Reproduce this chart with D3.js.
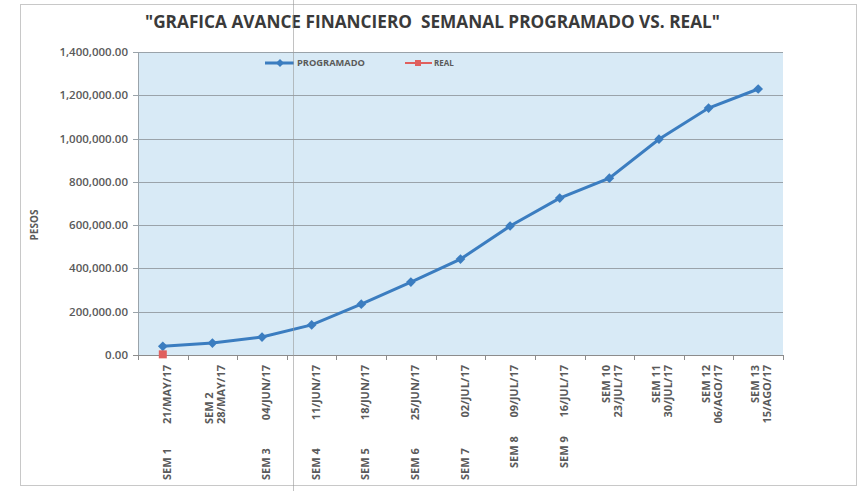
<!DOCTYPE html>
<html>
<head>
<meta charset="utf-8">
<script src="https://cdn.jsdelivr.net/npm/d3@7"></script>
<style>
  body { margin: 0; background: #fff; }
  svg { display: block; }
</style>
</head>
<body>
<svg width="867" height="491"></svg>
<script>
// datos
const semanas = ["SEM 1", "SEM 2", "SEM 3", "SEM 4", "SEM 5", "SEM 6", "SEM 7",
   "SEM 8", "SEM 9", "SEM 10", "SEM 11", "SEM 12", "SEM 13"];
const fechas = ["21/MAY/17", "28/MAY/17", "04/JUN/17", "11/JUN/17", "18/JUN/17",
   "25/JUN/17", "02/JUL/17", "09/JUL/17", "16/JUL/17", "23/JUL/17", "30/JUL/17",
   "06/AGO/17", "15/AGO/17"];
const programado = [40000, 55000, 83000, 139000, 235000, 337000, 443000,
   596000, 725000, 817000, 997000, 1141000, 1229000];
const real = [3000];
const yTicks = [0, 200000, 400000, 600000, 800000, 1000000, 1200000, 1400000];
const envueltas = ["SEM 2", "SEM 10", "SEM 11", "SEM 12", "SEM 13"];

const svg = d3.select("svg");
const font = "'Open Sans', sans-serif";
const pLeft = 138, pRight = 783, pTop = 52, pBottom = 355;

// marco del grafico
svg.append("rect")
   .attr("x", 20.5).attr("y", 4.5)
   .attr("width", 836).attr("height", 481)
   .attr("fill", "#fff")
   .attr("stroke", "#c8c8c8");

const x = d3.scaleBand().domain(semanas).range([pLeft, pRight]);
const y = d3.scaleLinear().domain([0, 1400000]).range([pBottom, pTop]);

svg.append("rect")
   .attr("x", pLeft).attr("y", pTop)
   .attr("width", pRight - pLeft).attr("height", pBottom - pTop)
   .attr("fill", "#d8eaf6");

// rejilla
svg.append("g")
   .selectAll("line")
   .data(yTicks)
   .enter()
   .append("line")
   .attr("x1", pLeft - 5).attr("x2", pRight)
   .attr("y1", d => Math.round(y(d)) + 0.5)
   .attr("y2", d => Math.round(y(d)) + 0.5)
   .style("stroke", d => d === 0 ? "#8c8c8c" : "#9aa3aa")
   .style("stroke-width", 1);

svg.append("line")
   .attr("x1", pLeft + 0.5).attr("x2", pLeft + 0.5)
   .attr("y1", pTop).attr("y2", pBottom)
   .style("stroke", "#9aa3aa");

// eje y
svg.append("g")
   .selectAll("text")
   .data(yTicks)
   .enter()
   .append("text")
   .attr("x", pLeft - 10)
   .attr("y", d => y(d) + 4)
   .attr("text-anchor", "end")
   .style("font-family", font)
   .style("font-size", "11.5px")
   .style("font-weight", 600)
   .style("fill", "#5a5a5a")
   .text(d => d3.format(",.2f")(d));

svg.append("text")
   .attr("transform", "translate(38,225) rotate(-90)")
   .attr("text-anchor", "middle")
   .style("font-family", font)
   .style("font-size", "10px")
   .style("font-weight", "bold")
   .style("fill", "#5a5a5a")
   .text("PESOS");

// marcas del eje x
const bordes = semanas.map(d => x(d)).concat([pRight]);
svg.append("g")
   .selectAll("line")
   .data(bordes)
   .enter()
   .append("line")
   .attr("x1", d => Math.round(d) + 0.5).attr("x2", d => Math.round(d) + 0.5)
   .attr("y1", pBottom).attr("y2", pBottom + 5)
   .style("stroke", "#8c8c8c");

// etiquetas del eje x
const labelTop = 365;
const xl = svg.append("g")
   .selectAll("g")
   .data(semanas)
   .enter()
   .append("g")
   .attr("transform", d => `translate(${x(d) + x.bandwidth() / 2},0)`);

xl.each(function (d, i) {
   const g = d3.select(this);
   const wrap = envueltas.includes(d);
   const fecha = g.append("text")
      .attr("transform", `translate(${wrap ? 13 : 8},${labelTop}) rotate(-90)`)
      .attr("text-anchor", "end")
      .style("font-family", font)
      .style("font-size", "11px")
      .style("font-weight", "bold")
      .style("fill", "#5a5a5a")
      .text(fechas[i]);
   const len = fecha.node().getComputedTextLength();
   let yy, anchor;
   if (wrap) {
      if (i === 1) { yy = labelTop + len; anchor = "start"; }
      else { yy = labelTop; anchor = "end"; }
   } else {
      yy = i >= 7 ? 468 : 480;
      anchor = "start";
   }
   g.append("text")
      .attr("transform", `translate(${wrap ? 1 : 8},${yy}) rotate(-90)`)
      .attr("text-anchor", anchor)
      .style("font-family", font)
      .style("font-size", "11px")
      .style("font-weight", "bold")
      .style("fill", "#5a5a5a")
      .text(d);
});

// series
const cx = (d, i) => x(semanas[i]) + x.bandwidth() / 2;
const line = d3.line().x(cx).y(d => y(d));

svg.append("path")
   .datum(programado)
   .attr("d", line)
   .attr("fill", "none")
   .attr("stroke", "#3b7dc0")
   .attr("stroke-width", 3);

svg.append("g")
   .selectAll("path")
   .data(programado)
   .enter()
   .append("path")
   .attr("d", d3.symbol(d3.symbolDiamond2, 60))
   .attr("transform", (d, i) => `translate(${cx(d, i)},${y(d)})`)
   .attr("fill", "#3b7dc0");

svg.append("g")
   .selectAll("rect")
   .data(real)
   .enter()
   .append("rect")
   .attr("x", (d, i) => cx(d, i) - 4)
   .attr("y", d => y(d) - 4)
   .attr("width", 8).attr("height", 8)
   .attr("fill", "#e0605e");

// leyenda
const leg = svg.append("g").attr("transform", "translate(0,63)");
leg.append("line").attr("x1", 265).attr("x2", 294).attr("y1", 0).attr("y2", 0)
   .attr("stroke", "#3b7dc0").attr("stroke-width", 3);
leg.append("path").attr("d", d3.symbol(d3.symbolDiamond2, 40))
   .attr("transform", "translate(280,0)").attr("fill", "#3b7dc0");
leg.append("text").attr("x", 297).attr("y", 3)
   .style("font-family", font).style("font-size", "8px").style("font-weight", "bold")
   .style("fill", "#5a5a5a").attr("textLength", 68).attr("lengthAdjust", "spacingAndGlyphs")
   .text("PROGRAMADO");
leg.append("line").attr("x1", 405).attr("x2", 432).attr("y1", 0).attr("y2", 0)
   .attr("stroke", "#e0605e").attr("stroke-width", 2);
leg.append("rect").attr("x", 415).attr("y", -3).attr("width", 6).attr("height", 6)
   .attr("fill", "#e0605e");
leg.append("text").attr("x", 434).attr("y", 3)
   .style("font-family", font).style("font-size", "8px").style("font-weight", "bold")
   .style("fill", "#5a5a5a")
   .text("REAL");

// titulo
svg.append("text")
   .attr("x", 145).attr("y", 28)
   .attr("textLength", 575).attr("lengthAdjust", "spacingAndGlyphs")
   .style("white-space", "pre")
   .style("font-family", font)
   .style("font-size", "18px")
   .style("font-weight", "bold")
   .style("fill", "#3a3a3a")
   .text("\"GRAFICA AVANCE FINANCIERO  SEMANAL PROGRAMADO VS. REAL\"");

// linea vertical del escaneo
svg.append("line")
   .attr("x1", 293.5).attr("x2", 293.5).attr("y1", 0).attr("y2", 491)
   .style("stroke", "#9a9a9a").style("stroke-opacity", 0.6);
</script>
</body>
</html>
